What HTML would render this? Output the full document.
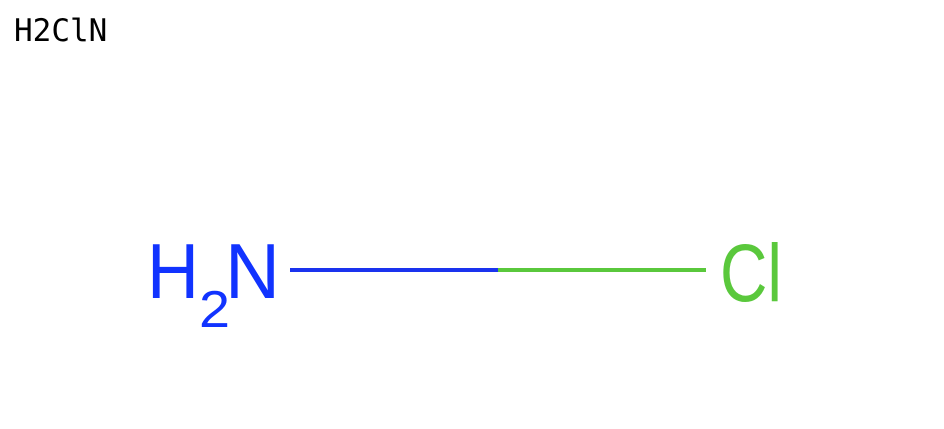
<!DOCTYPE html>
<html><head><style>body{margin:0;background:#fff;width:944px;height:424px;overflow:hidden}</style></head>
<body>
<svg width="944" height="424" xmlns="http://www.w3.org/2000/svg">
<text x="14" y="41" font-family="DejaVu Sans Mono, Liberation Mono, monospace" font-size="31" fill="#000">H2ClN</text>
<line x1="290" y1="270" x2="499" y2="270" stroke="#1a33ee" stroke-width="4"/>
<line x1="498" y1="270" x2="706" y2="270" stroke="#5ac83c" stroke-width="4"/>
<g font-family="Liberation Sans, DejaVu Sans, sans-serif" fill="#1133ff">
<text x="147" y="298" font-size="78" textLength="52" lengthAdjust="spacingAndGlyphs">H</text>
<text x="199" y="327" font-size="52" textLength="31" lengthAdjust="spacingAndGlyphs">2</text>
<text x="225" y="298" font-size="78" textLength="55" lengthAdjust="spacingAndGlyphs">N</text>
</g>
<text x="720" y="301" font-family="Liberation Sans, DejaVu Sans, sans-serif" font-size="82" fill="#5ac83c" textLength="62" lengthAdjust="spacingAndGlyphs">Cl</text>
</svg>
</body></html>
